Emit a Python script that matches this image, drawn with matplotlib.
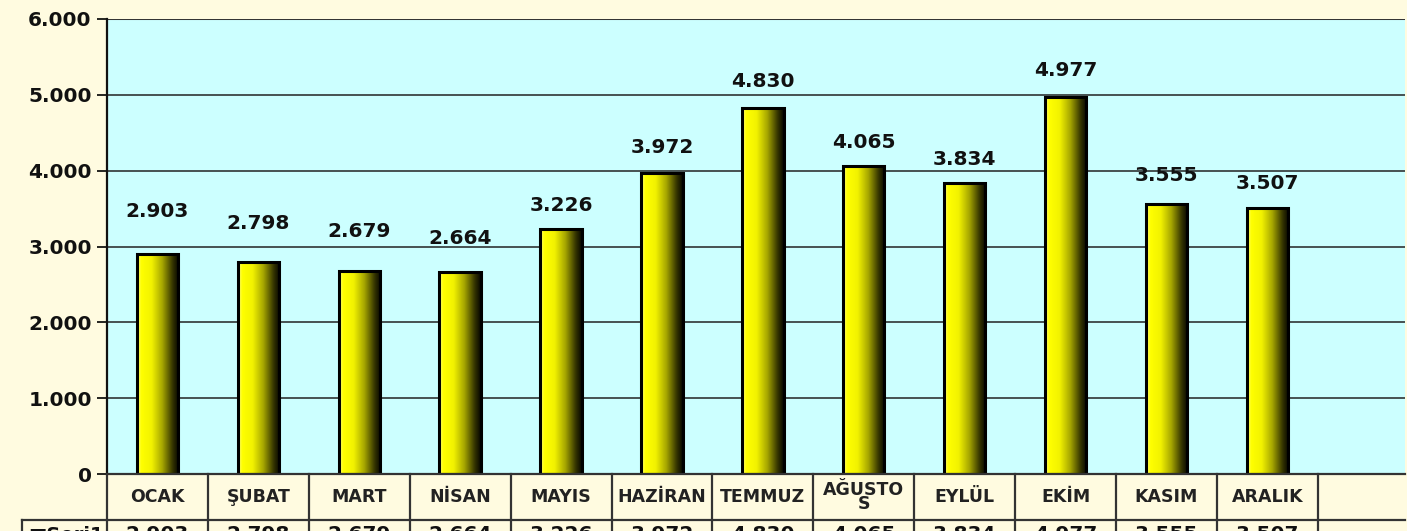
import numpy as np
import matplotlib.pyplot as plt
from matplotlib.colors import LinearSegmentedColormap
from matplotlib.lines import Line2D
from matplotlib.patches import Rectangle
from matplotlib.transforms import blended_transform_factory

months = ['OCAK', 'ŞUBAT', 'MART', 'NİSAN', 'MAYIS', 'HAZİRAN', 'TEMMUZ',
          'AĞUSTO\nS', 'EYLÜL', 'EKİM', 'KASIM', 'ARALIK']
values = [2903, 2798, 2679, 2664, 3226, 3972, 4830, 4065, 3834, 4977, 3555, 3507]
series_name = 'Seri1'
yticks = [0, 1000, 2000, 3000, 4000, 5000, 6000]

# label gap above bar top (pixels), first few were moved by hand in the original
label_gap = [42, 38, 39, 33, 24, 25, 26, 23, 24, 26, 29, 25]

W, H = 1419, 531
cream = '#fffbe0'
cyan = '#ccffff'

def fmt(v):
    return '{:,}'.format(int(v)).replace(',', '.')

fig = plt.figure(figsize=(W / 100, H / 100), dpi=100, facecolor=cream)
ax = fig.add_axes([107 / W, 1 - 474 / H, (1405 - 107) / W, (474 - 19) / H])
ax.set_facecolor(cyan)

x = np.arange(len(months))
bars = ax.bar(x, values, width=0.41, facecolor='none', edgecolor='black',
              linewidth=2.2, zorder=3)

# cylinder-ish shading: bright yellow on the left, dark on the right
cmap = LinearSegmentedColormap.from_list('cyl', [(0, '#ffff90'), (0.1, '#ffff00'),
                                                 (0.35, '#f2f200'), (0.6, '#a8a800'),
                                                 (0.85, '#353500'), (1, '#050500')])
grad = np.linspace(0, 1, 256).reshape(1, -1)
for b in bars:
    x0, w, h = b.get_x(), b.get_width(), b.get_height()
    im = ax.imshow(grad, cmap=cmap, aspect='auto', extent=[x0, x0 + w, 0, h],
                   zorder=2, interpolation='bicubic')
    im.set_clip_path(b)

for i, v in enumerate(values):
    ax.annotate(fmt(v), (x[i], v), xytext=(0, label_gap[i]), textcoords='offset pixels',
                ha='center', va='center', fontsize=14.5, fontweight='bold',
                color='#111111', family='DejaVu Sans', zorder=4)

ax.set_xlim(-0.5, -0.5 + (1405 - 107) / 100.9)
ax.set_ylim(0, 6000)
ax.set_yticks(yticks)
ax.set_yticklabels([fmt(t) for t in yticks], fontsize=14.5, fontweight='bold',
                   color='#111111', family='DejaVu Sans')
ax.set_xticks([])
ax.tick_params(axis='y', direction='out', length=7, width=1.2, pad=4)
ax.grid(axis='y', color='#222222', linewidth=1.1, zorder=1)
for s in ['top', 'right', 'bottom']:
    ax.spines[s].set_visible(False)
ax.spines['left'].set_linewidth(1.6)
ax.spines['left'].set_color('#111111')
ax.axhline(6000, color='#777777', linewidth=1.5, zorder=1)

# data table under the axis
def fy(py):
    return 1 - py / H

tr = blended_transform_factory(ax.transData, fig.transFigure)
lc = '#333333'
fig.add_artist(Line2D([107 / W, 1405 / W], [fy(474), fy(474)], color=lc, lw=1.6))
fig.add_artist(Line2D([22 / W, 1405 / W], [fy(520), fy(520)], color=lc, lw=1.6))
fig.add_artist(Line2D([22 / W, 22 / W], [fy(520), 0], color=lc, lw=1.6))
for i in range(len(months) + 1):
    fig.add_artist(Line2D([i - 0.5, i - 0.5], [fy(474), 0], color=lc, lw=1.6,
                          transform=tr))

for i, m in enumerate(months):
    ls = 0.75 if '\n' in m else 1.2
    fig.text(x[i], fy(497), m, transform=tr, ha='center', va='center',
             fontsize=12.5, fontweight='bold', color='#222222',
             family='DejaVu Sans', linespacing=ls)
    fig.text(x[i], fy(525), fmt(values[i]), transform=tr, ha='center', va='top',
             fontsize=14.5, fontweight='bold', color='#111111', family='DejaVu Sans')

fig.text(28 / W, fy(525), '■' + series_name, ha='left', va='top', fontsize=14,
         fontweight='bold', color='#111111', family='DejaVu Sans')

# white strip on the right edge of the screenshot
fig.add_artist(Rectangle((1407 / W, 0), 1 - 1407 / W, 1, transform=fig.transFigure,
                         facecolor='white', edgecolor='none', zorder=10))

fig.savefig('out.png', dpi=100, facecolor=cream)
